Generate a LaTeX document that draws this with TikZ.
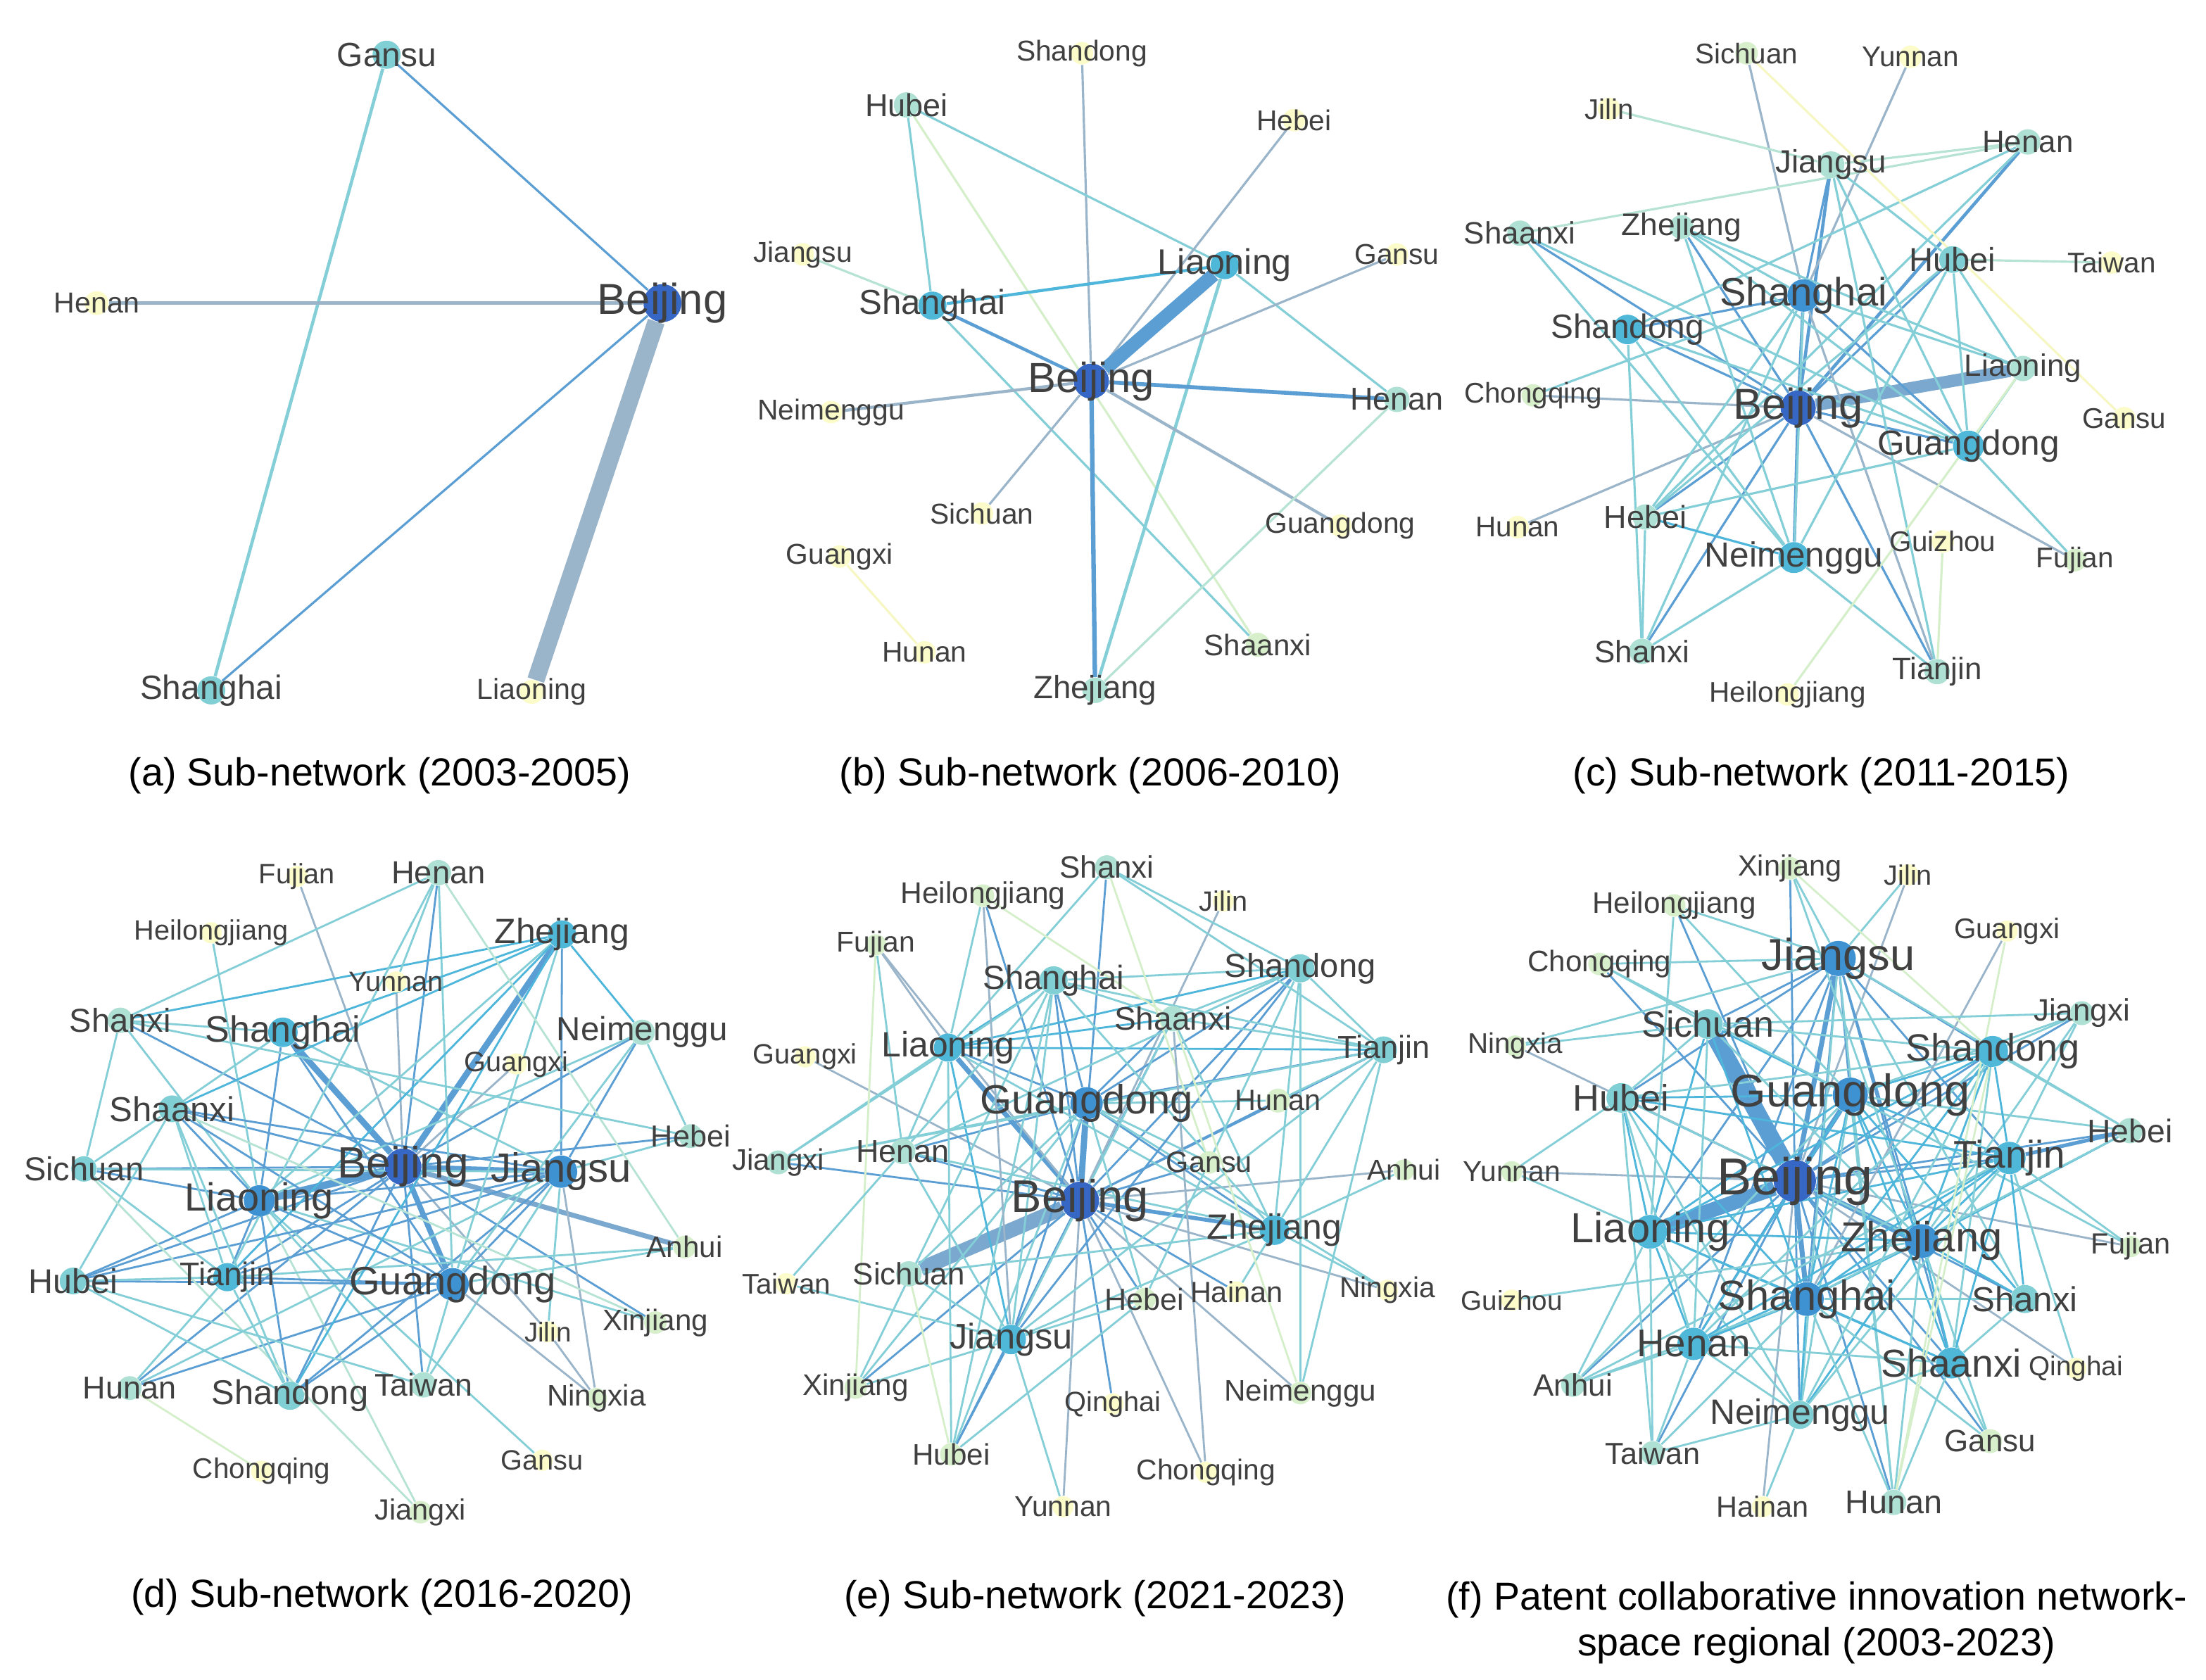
\documentclass[tikz,border=0pt]{standalone}
\usepackage{fontspec}
\setmainfont{Liberation Sans}
\usetikzlibrary{backgrounds}

\definecolor{nodeA}{HTML}{3767C4}
\definecolor{nodeB}{HTML}{3F92D2}
\definecolor{nodeC}{HTML}{4FB8D8}
\definecolor{nodeD}{HTML}{7FCFD4}
\definecolor{nodeE}{HTML}{AEE0D3}
\definecolor{nodeF}{HTML}{D7EFCB}
\definecolor{nodeG}{HTML}{FCFCCB}
\definecolor{labtext}{HTML}{404040}
\definecolor{lnBlue}{HTML}{5B9ED4}
\definecolor{lnSteel}{HTML}{7BA8CE}
\definecolor{lnGray}{HTML}{9AB5CA}
\definecolor{lnCyan}{HTML}{4DB6DA}
\definecolor{lnTeal}{HTML}{84CFD7}
\definecolor{lnMint}{HTML}{B6E3D4}
\definecolor{lnLight}{HTML}{D6EFCB}
\definecolor{lnYellow}{HTML}{F6F7C2}

\tikzset{city/.style={
		circle,
		inner sep=0pt,
		minimum size=#1,
	},
	city/.default=3.2mm,
	lab/.style 2 args={
		label={[text=labtext, inner sep=0pt, font=\fontsize{#1}{#1}\selectfont]center:#2}
	},
	link/.style={
		draw=#1,
		line width=0.9pt,
	},
	capt/.style={
		text=black,
		font=\fontsize{15.8}{18.6}\selectfont,
		align=center,
	}
}

\begin{document}
\begin{tikzpicture}
	\begin{pgfonlayer}{background}
		\fill[white] (0,0) rectangle (31.34,-23.87);
	\end{pgfonlayer}
	\useasboundingbox (0,0) rectangle (31.34,-23.87);

	% (a) 2003-2005
	\begin{scope}[name prefix=a-, x=0.006696cm, y=-0.007206cm]
		\node[city=4mm, fill=nodeD, lab={13.6}{Gansu}] (Gansu) at (820,108) {};
		\node[city=3.4mm, fill=nodeG, lab={11.7}{Henan}] (Henan) at (205,598) {};
		\node[city=5.4mm, fill=nodeA, lab={17.5}{Beijing}] (Beijing) at (1405,598) {};
		\node[city=4mm, fill=nodeD, lab={13.6}{Shanghai}] (Shanghai) at (448,1362) {};
		\node[city=3.4mm, fill=nodeG, lab={11.7}{Liaoning}] (Liaoning) at (1128,1365) {};
		\begin{pgfonlayer}{background}
			\draw[link=lnBlue] (Gansu) -- (Beijing);
			\draw[link=lnTeal, line width=1.3pt] (Gansu) -- (Shanghai);
			\draw[link=lnGray, line width=1.3pt] (Henan) -- (Beijing);
			\draw[link=lnBlue] (Shanghai) -- (Beijing);
			\draw[link=lnGray, line width=7pt] (Liaoning) -- (Beijing);
		\end{pgfonlayer}
		\node[capt] (cap) at (805,1530) {(a) Sub-network (2003-2005)};
	\end{scope}

	% (b) 2006-2010
	\begin{scope}[name prefix=b-, shift={(10.4cm,0cm)}, x=0.006696cm, y=-0.007206cm]
		\node[city, fill=nodeG, lab={11.6}{Shandong}] (Shandong) at (742,105) {};
		\node[city=3.6mm, fill=nodeE, lab={12.8}{Hubei}] (Hubei) at (370,207) {};
		\node[city, fill=nodeG, lab={11.6}{Hebei}] (Hebei) at (1192,237) {};
		\node[city, fill=nodeG, lab={11.6}{Jiangsu}] (Jiangsu) at (150,502) {};
		\node[city=4mm, fill=nodeC, lab={14.3}{Liaoning}] (Liaoning) at (1045,523) {};
		\node[city, fill=nodeG, lab={11.6}{Gansu}] (Gansu) at (1410,502) {};
		\node[city=4mm, fill=nodeC, lab={14}{Shanghai}] (Shanghai) at (425,603) {};
		\node[city=5mm, fill=nodeA, lab={17}{Beijing}] (Beijing) at (762,752) {};
		\node[city, fill=nodeG, lab={11.6}{Neimenggu}] (Neimenggu) at (210,813) {};
		\node[city=3.6mm, fill=nodeE, lab={12.8}{Henan}] (Henan) at (1410,788) {};
		\node[city, fill=nodeG, lab={11.6}{Sichuan}] (Sichuan) at (530,1013) {};
		\node[city, fill=nodeG, lab={11.6}{Guangdong}] (Guangdong) at (1290,1037) {};
		\node[city, fill=nodeG, lab={11.6}{Guangxi}] (Guangxi) at (228,1098) {};
		\node[city, fill=nodeG, lab={11.6}{Hunan}] (Hunan) at (408,1287) {};
		\node[city=3.4mm, fill=nodeF, lab={12}{Shaanxi}] (Shaanxi) at (1115,1272) {};
		\node[city=3.6mm, fill=nodeE, lab={13}{Zhejiang}] (Zhejiang) at (770,1362) {};
		\begin{pgfonlayer}{background}
			\draw[link=lnGray] (Shandong) -- (Beijing);
			\draw[link=lnTeal] (Hubei) -- (Shanghai);
			\draw[link=lnTeal] (Hubei) -- (Liaoning);
			\draw[link=lnLight] (Hubei) -- (Shaanxi);
			\draw[link=lnGray] (Hebei) -- (Beijing);
			\draw[link=lnMint] (Jiangsu) -- (Shanghai);
			\draw[link=lnCyan, line width=1.2pt] (Shanghai) -- (Liaoning);
			\draw[link=lnBlue, line width=1.3pt] (Shanghai) -- (Beijing);
			\draw[link=lnTeal] (Shanghai) -- (Shaanxi);
			\draw[link=lnBlue, line width=5.5pt] (Liaoning) -- (Beijing);
			\draw[link=lnTeal, line width=1.3pt] (Liaoning) -- (Zhejiang);
			\draw[link=lnTeal] (Liaoning) -- (Henan);
			\draw[link=lnGray] (Gansu) -- (Beijing);
			\draw[link=lnBlue, line width=1.6pt] (Beijing) -- (Henan);
			\draw[link=lnGray, line width=1.2pt] (Neimenggu) -- (Beijing);
			\draw[link=lnGray] (Sichuan) -- (Beijing);
			\draw[link=lnGray, line width=1.2pt] (Beijing) -- (Guangdong);
			\draw[link=lnBlue, line width=1.8pt] (Beijing) -- (Zhejiang);
			\draw[link=lnMint] (Henan) -- (Zhejiang);
			\draw[link=lnYellow] (Guangxi) -- (Hunan);
		\end{pgfonlayer}
		\node[capt] (cap) at (760,1530) {(b) Sub-network (2006-2010)};
	\end{scope}

	% (c) 2011-2015
	\begin{scope}[name prefix=c-, shift={(20.6cm,0cm)}, x=0.006849cm, y=-0.007206cm]
		\node[city, fill=nodeF, lab={11.5}{Sichuan}] (Sichuan) at (615,105) {};
		\node[city, fill=nodeG, lab={11.5}{Yunnan}] (Yunnan) at (955,112) {};
		\node[city, fill=nodeG, lab={11.5}{Jilin}] (Jilin) at (330,215) {};
		\node[city=3.8mm, fill=nodeE, lab={13}{Jiangsu}] (Jiangsu) at (790,325) {};
		\node[city=3.6mm, fill=nodeE, lab={12.5}{Henan}] (Henan) at (1198,280) {};
		\node[city=3.6mm, fill=nodeE, lab={12.5}{Shaanxi}] (Shaanxi) at (145,460) {};
		\node[city=3.4mm, fill=nodeE, lab={12.6}{Zhejiang}] (Zhejiang) at (480,448) {};
		\node[city=3.8mm, fill=nodeD, lab={13.4}{Hubei}] (Hubei) at (1042,512) {};
		\node[city, fill=nodeG, lab={11.5}{Taiwan}] (Taiwan) at (1372,518) {};
		\node[city=4.6mm, fill=nodeB, lab={16}{Shanghai}] (Shanghai) at (733,583) {};
		\node[city=4.2mm, fill=nodeC, lab={13.6}{Shandong}] (Shandong) at (368,650) {};
		\node[city=3.6mm, fill=nodeE, lab={12.5}{Liaoning}] (Liaoning) at (1188,727) {};
		\node[city, fill=nodeF, lab={11.5}{Chongqing}] (Chongqing) at (172,780) {};
		\node[city=5mm, fill=nodeA, lab={17.5}{Beijing}] (Beijing) at (722,805) {};
		\node[city, fill=nodeG, lab={11.5}{Gansu}] (Gansu) at (1398,825) {};
		\node[city=4.4mm, fill=nodeC, lab={14.1}{Guangdong}] (Guangdong) at (1075,880) {};
		\node[city=3.6mm, fill=nodeE, lab={12.8}{Hebei}] (Hebei) at (405,1020) {};
		\node[city, fill=nodeG, lab={11.5}{Hunan}] (Hunan) at (140,1040) {};
		\node[city, fill=nodeG, lab={11.5}{Guizhou}] (Guizhou) at (1022,1068) {};
		\node[city, fill=nodeF, lab={11.5}{Fujian}] (Fujian) at (1296,1105) {};
		\node[city=4.4mm, fill=nodeC, lab={14.1}{Neimenggu}] (Neimenggu) at (713,1100) {};
		\node[city=3.6mm, fill=nodeE, lab={12.5}{Shanxi}] (Shanxi) at (398,1285) {};
		\node[city=3.6mm, fill=nodeE, lab={12.5}{Tianjin}] (Tianjin) at (1010,1325) {};
		\node[city, fill=nodeG, lab={11.5}{Heilongjiang}] (Heilongjiang) at (700,1370) {};
		\begin{pgfonlayer}{background}
			\draw[link=lnSteel, line width=5pt] (Beijing) -- (Liaoning);
			\foreach \n in {Shanghai, Jiangsu, Henan, Neimenggu}
				\draw[link=lnBlue, line width=1.3pt] (Beijing) -- (\n);
			\foreach \n in {Zhejiang, Shaanxi, Shandong, Hubei, Guangdong, Shanxi, Tianjin, Hebei}
				\draw[link=lnBlue] (Beijing) -- (\n);
			\foreach \n in {Chongqing, Hunan, Fujian}
				\draw[link=lnGray] (Beijing) -- (\n);
			\foreach \n in {Sichuan, Yunnan, Tianjin}
				\draw[link=lnGray] (Shanghai) -- (\n);
			\foreach \n in {Shandong, Guangdong, Jiangsu}
				\draw[link=lnBlue] (Shanghai) -- (\n);
			\foreach \n in {Liaoning, Hebei, Neimenggu, Chongqing, Zhejiang, Shanxi}
				\draw[link=lnTeal] (Shanghai) -- (\n);
			\foreach \n in {Hubei, Guangdong, Tianjin}
				\draw[link=lnTeal] (Jiangsu) -- (\n);
			\foreach \n in {Guangdong, Neimenggu, Liaoning}
				\draw[link=lnTeal] (Zhejiang) -- (\n);
			\foreach \n in {Neimenggu, Guangdong}
				\draw[link=lnTeal] (Shaanxi) -- (\n);
			\foreach \n in {Guangdong, Shanxi, Neimenggu, Henan}
				\draw[link=lnTeal] (Shandong) -- (\n);
			\foreach \n in {Guangdong, Liaoning, Hebei, Neimenggu}
				\draw[link=lnTeal] (Hubei) -- (\n);
			\foreach \n in {Hebei, Fujian}
				\draw[link=lnTeal] (Guangdong) -- (\n);
			\draw[link=lnCyan] (Hebei) -- (Neimenggu);
			\draw[link=lnTeal] (Hebei) -- (Shanxi);
			\draw[link=lnTeal] (Henan) -- (Hebei);
			\draw[link=lnTeal] (Neimenggu) -- (Shanxi);
			\draw[link=lnTeal] (Neimenggu) -- (Tianjin);
			\draw[link=lnTeal] (Liaoning) -- (Guangdong);
			\draw[link=lnMint] (Jilin) -- (Jiangsu);
			\draw[link=lnMint] (Shaanxi) -- (Henan);
			\draw[link=lnMint] (Jiangsu) -- (Henan);
			\draw[link=lnMint] (Hubei) -- (Taiwan);
			\draw[link=lnLight] (Liaoning) -- (Heilongjiang);
			\draw[link=lnLight] (Guizhou) -- (Tianjin);
			\draw[link=lnYellow] (Sichuan) -- (Gansu);
		\end{pgfonlayer}
		\node[capt] (cap) at (770,1530) {(c) Sub-network (2011-2015)};
	\end{scope}

	% (d) 2016-2020
	\begin{scope}[name prefix=d-, shift={(0cm,-11.7cm)}, x=0.006696cm, y=-0.007762cm]
		\node[city=3mm, fill=nodeG, lab={11.3}{Fujian}] (Fujian) at (630,97) {};
		\node[city=3.6mm, fill=nodeE, lab={12.9}{Henan}] (Henan) at (930,90) {};
		\node[city=3mm, fill=nodeG, lab={11.3}{Heilongjiang}] (Heilongjiang) at (448,200) {};
		\node[city=4mm, fill=nodeC, lab={14.2}{Zhejiang}] (Zhejiang) at (1192,203) {};
		\node[city=3mm, fill=nodeG, lab={11.3}{Yunnan}] (Yunnan) at (840,290) {};
		\node[city=3.6mm, fill=nodeE, lab={13.4}{Shanxi}] (Shanxi) at (255,360) {};
		\node[city=4.2mm, fill=nodeC, lab={14.8}{Shanghai}] (Shanghai) at (600,382) {};
		\node[city=3.6mm, fill=nodeE, lab={13.5}{Neimenggu}] (Neimenggu) at (1362,382) {};
		\node[city=3mm, fill=nodeG, lab={11.3}{Guangxi}] (Guangxi) at (1095,440) {};
		\node[city=3.8mm, fill=nodeD, lab={14}{Shaanxi}] (Shaanxi) at (365,522) {};
		\node[city=3.4mm, fill=nodeE, lab={12.3}{Hebei}] (Hebei) at (1465,572) {};
		\node[city=3.6mm, fill=nodeD, lab={13.4}{Sichuan}] (Sichuan) at (178,632) {};
		\node[city=5.2mm, fill=nodeA, lab={17.7}{Beijing}] (Beijing) at (855,628) {};
		\node[city=4.6mm, fill=nodeB, lab={16.5}{Jiangsu}] (Jiangsu) at (1190,637) {};
		\node[city=4.4mm, fill=nodeB, lab={15.9}{Liaoning}] (Liaoning) at (550,690) {};
		\node[city=3.2mm, fill=nodeF, lab={12}{Anhui}] (Anhui) at (1452,775) {};
		\node[city=3.8mm, fill=nodeD, lab={13.8}{Hubei}] (Hubei) at (155,837) {};
		\node[city=4mm, fill=nodeC, lab={13.2}{Tianjin}] (Tianjin) at (482,830) {};
		\node[city=4.6mm, fill=nodeB, lab={16}{Guangdong}] (Guangdong) at (960,843) {};
		\node[city=3mm, fill=nodeG, lab={11}{Jilin}] (Jilin) at (1162,930) {};
		\node[city=3.2mm, fill=nodeF, lab={12}{Xinjiang}] (Xinjiang) at (1390,913) {};
		\node[city=3.4mm, fill=nodeE, lab={12.8}{Hunan}] (Hunan) at (275,1033) {};
		\node[city=4mm, fill=nodeD, lab={13.9}{Shandong}] (Shandong) at (615,1047) {};
		\node[city=3.6mm, fill=nodeE, lab={12.7}{Taiwan}] (Taiwan) at (898,1027) {};
		\node[city=3mm, fill=nodeF, lab={12}{Ningxia}] (Ningxia) at (1265,1052) {};
		\node[city=3mm, fill=nodeG, lab={11.5}{Chongqing}] (Chongqing) at (555,1185) {};
		\node[city=3mm, fill=nodeG, lab={11.3}{Gansu}] (Gansu) at (1150,1165) {};
		\node[city=3.2mm, fill=nodeF, lab={11.8}{Jiangxi}] (Jiangxi) at (892,1260) {};
		\begin{pgfonlayer}{background}
			\draw[link=lnBlue, line width=3pt] (Beijing) -- (Liaoning);
			\draw[link=lnBlue, line width=2.5pt] (Beijing) -- (Shanghai);
			\draw[link=lnBlue, line width=2.5pt] (Beijing) -- (Zhejiang);
			\draw[link=lnBlue, line width=2.2pt] (Beijing) -- (Guangdong);
			\draw[link=lnBlue, line width=2pt] (Beijing) -- (Jiangsu);
			\draw[link=lnSteel, line width=2pt] (Beijing) -- (Anhui);
			\foreach \n in {Henan, Shanxi, Shaanxi, Sichuan, Hubei, Tianjin, Neimenggu, Hebei, Shandong, Taiwan, Hunan, Xinjiang}
				\draw[link=lnBlue, line width=0.8pt] (Beijing) -- (\n);
			\foreach \n in {Fujian, Guangxi, Jilin, Yunnan}
				\draw[link=lnGray, line width=0.8pt] (Beijing) -- (\n);
			\foreach \n in {Shanghai, Shaanxi, Hubei, Tianjin, Guangdong, Jiangsu, Shandong, Sichuan}
				\draw[link=lnBlue, line width=0.8pt] (Liaoning) -- (\n);
			\foreach \n in {Taiwan, Heilongjiang, Neimenggu, Zhejiang, Xinjiang, Shanxi, Gansu}
				\draw[link=lnTeal, line width=0.8pt] (Liaoning) -- (\n);
			\draw[link=lnMint, line width=0.8pt] (Liaoning) -- (Jiangxi);
			\foreach \n in {Zhejiang, Shaanxi, Hubei, Tianjin, Guangdong, Shandong, Neimenggu}
				\draw[link=lnBlue, line width=0.8pt] (Jiangsu) -- (\n);
			\foreach \n in {Shanghai, Taiwan, Jilin, Hunan, Hebei, Sichuan}
				\draw[link=lnTeal, line width=0.8pt] (Jiangsu) -- (\n);
			\draw[link=lnGray, line width=0.8pt] (Jiangsu) -- (Ningxia);
			\foreach \n in {Shanghai, Shaanxi, Hubei, Tianjin, Shandong, Hunan}
				\draw[link=lnBlue, line width=0.8pt] (Guangdong) -- (\n);
			\foreach \n in {Taiwan, Henan, Zhejiang, Neimenggu, Anhui}
				\draw[link=lnTeal, line width=0.8pt] (Guangdong) -- (\n);
			\draw[link=lnGray, line width=0.8pt] (Guangdong) -- (Ningxia);
			\foreach \n in {Shanxi, Shaanxi, Shanghai, Neimenggu, Tianjin, Shandong}
				\draw[link=lnCyan, line width=0.8pt] (Zhejiang) -- (\n);
			\foreach \n in {Shanxi, Yunnan, Tianjin}
				\draw[link=lnTeal, line width=0.8pt] (Henan) -- (\n);
			\draw[link=lnMint, line width=0.8pt] (Henan) -- (Anhui);
			\foreach \n in {Sichuan, Shanghai, Hebei}
				\draw[link=lnTeal, line width=0.8pt] (Shanxi) -- (\n);
			\foreach \n in {Sichuan, Hubei, Tianjin, Shandong, Shanghai}
				\draw[link=lnTeal, line width=0.8pt] (Shaanxi) -- (\n);
			\draw[link=lnMint, line width=0.8pt] (Shaanxi) -- (Xinjiang);
			\draw[link=lnTeal, line width=0.8pt] (Sichuan) -- (Tianjin);
			\draw[link=lnMint, line width=0.8pt] (Sichuan) -- (Jiangxi);
			\foreach \n in {Tianjin, Shandong, Taiwan}
				\draw[link=lnTeal, line width=0.8pt] (Hubei) -- (\n);
			\draw[link=lnLight, line width=0.8pt] (Hunan) -- (Chongqing);
			\draw[link=lnTeal, line width=0.8pt] (Hunan) -- (Tianjin);
			\foreach \n in {Anhui, Shandong}
				\draw[link=lnTeal, line width=0.8pt] (Tianjin) -- (\n);
			\draw[link=lnTeal, line width=0.8pt] (Neimenggu) -- (Hebei);
			\draw[link=lnGray, line width=0.8pt] (Jilin) -- (Ningxia);
		\end{pgfonlayer}
		\node[capt] (cap) at (810,1415) {(d) Sub-network (2016-2020)};
	\end{scope}

	% (e) 2021-2023
	\begin{scope}[name prefix=e-, shift={(10.4cm,-11.7cm)}, x=0.006696cm, y=-0.007762cm]
		\node[city=3.4mm, fill=nodeE, lab={12.5}{Shanxi}] (Shanxi) at (795,80) {};
		\node[city=3.2mm, fill=nodeF, lab={12.1}{Heilongjiang}] (Heilongjiang) at (532,132) {};
		\node[city=3mm, fill=nodeG, lab={11.3}{Jilin}] (Jilin) at (1042,142) {};
		\node[city=3mm, fill=nodeF, lab={11.6}{Fujian}] (Fujian) at (305,222) {};
		\node[city=4mm, fill=nodeD, lab={13.4}{Shandong}] (Shandong) at (1205,265) {};
		\node[city=4mm, fill=nodeD, lab={13.5}{Shanghai}] (Shanghai) at (682,287) {};
		\node[city=3.6mm, fill=nodeE, lab={13.1}{Shaanxi}] (Shaanxi) at (935,357) {};
		\node[city=4mm, fill=nodeC, lab={14.2}{Liaoning}] (Liaoning) at (458,410) {};
		\node[city=3.8mm, fill=nodeD, lab={12.8}{Tianjin}] (Tianjin) at (1382,414) {};
		\node[city=3mm, fill=nodeG, lab={11.3}{Guangxi}] (Guangxi) at (155,427) {};
		\node[city=4.6mm, fill=nodeB, lab={16.5}{Guangdong}] (Guangdong) at (752,512) {};
		\node[city=3.4mm, fill=nodeF, lab={11.8}{Hunan}] (Hunan) at (1158,507) {};
		\node[city=3.4mm, fill=nodeE, lab={12}{Jiangxi}] (Jiangxi) at (98,620) {};
		\node[city=3.6mm, fill=nodeE, lab={12.8}{Henan}] (Henan) at (362,600) {};
		\node[city=3.2mm, fill=nodeF, lab={11.8}{Gansu}] (Gansu) at (1012,620) {};
		\node[city=3mm, fill=nodeF, lab={11.6}{Anhui}] (Anhui) at (1425,634) {};
		\node[city=5.4mm, fill=nodeA, lab={18.5}{Beijing}] (Beijing) at (738,690) {};
		\node[city=4.2mm, fill=nodeC, lab={14.2}{Zhejiang}] (Zhejiang) at (1150,744) {};
		\node[city=3.6mm, fill=nodeE, lab={12.5}{Sichuan}] (Sichuan) at (375,824) {};
		\node[city=3mm, fill=nodeG, lab={11.5}{Taiwan}] (Taiwan) at (115,842) {};
		\node[city=3.2mm, fill=nodeF, lab={12.3}{Hebei}] (Hebei) at (875,870) {};
		\node[city=3mm, fill=nodeG, lab={11.8}{Hainan}] (Hainan) at (1070,857) {};
		\node[city=3mm, fill=nodeG, lab={11.6}{Ningxia}] (Ningxia) at (1390,854) {};
		\node[city=4.2mm, fill=nodeC, lab={14.4}{Jiangsu}] (Jiangsu) at (592,944) {};
		\node[city=3.2mm, fill=nodeF, lab={12}{Xinjiang}] (Xinjiang) at (262,1032) {};
		\node[city=3mm, fill=nodeG, lab={11.3}{Qinghai}] (Qinghai) at (808,1062) {};
		\node[city=3.2mm, fill=nodeF, lab={12}{Neimenggu}] (Neimenggu) at (1205,1042) {};
		\node[city=3.2mm, fill=nodeF, lab={12}{Hubei}] (Hubei) at (465,1154) {};
		\node[city=3mm, fill=nodeG, lab={11.6}{Chongqing}] (Chongqing) at (1005,1187) {};
		\node[city=3mm, fill=nodeG, lab={11.6}{Yunnan}] (Yunnan) at (702,1250) {};
		\begin{pgfonlayer}{background}
			\draw[link=lnSteel, line width=6pt] (Beijing) -- (Sichuan);
			\draw[link=lnBlue, line width=2.5pt] (Beijing) -- (Guangdong);
			\draw[link=lnBlue, line width=2pt] (Beijing) -- (Liaoning);
			\draw[link=lnBlue, line width=1.6pt] (Beijing) -- (Zhejiang);
			\foreach \n in {Shanghai, Shandong, Shaanxi, Tianjin, Jiangsu, Henan, Jiangxi, Hebei, Hainan, Shanxi, Hubei, Xinjiang, Qinghai, Gansu, Hunan, Heilongjiang}
				\draw[link=lnBlue, line width=0.8pt] (Beijing) -- (\n);
			\foreach \n in {Neimenggu, Chongqing, Yunnan, Fujian, Anhui, Guangxi, Jilin, Ningxia}
				\draw[link=lnGray, line width=0.8pt] (Beijing) -- (\n);
			\foreach \n in {Liaoning, Shanghai, Shandong, Shaanxi, Tianjin, Zhejiang, Jiangsu, Henan}
				\draw[link=lnBlue, line width=0.8pt] (Guangdong) -- (\n);
			\foreach \n in {Jiangxi, Sichuan, Hebei, Hunan, Xinjiang, Hubei, Gansu, Ningxia}
				\draw[link=lnTeal, line width=0.8pt] (Guangdong) -- (\n);
			\foreach \n in {Shanghai, Shandong, Tianjin, Shaanxi, Jiangsu}
				\draw[link=lnCyan, line width=0.8pt] (Liaoning) -- (\n);
			\foreach \n in {Henan, Jiangxi, Heilongjiang, Shanxi, Zhejiang, Hubei}
				\draw[link=lnTeal, line width=0.8pt] (Liaoning) -- (\n);
			\draw[link=lnGray, line width=0.8pt] (Liaoning) -- (Fujian);
			\foreach \n in {Shanghai, Shanxi, Shaanxi, Tianjin, Zhejiang, Neimenggu, Hebei, Henan}
				\draw[link=lnTeal, line width=0.8pt] (Shandong) -- (\n);
			\draw[link=lnBlue, line width=0.8pt] (Shandong) -- (Jiangsu);
			\foreach \n in {Shanxi, Shaanxi, Zhejiang, Jiangsu, Hunan, Shanghai, Jiangxi, Neimenggu}
				\draw[link=lnTeal, line width=0.8pt] (Tianjin) -- (\n);
			\foreach \n in {Shanghai, Shaanxi, Jiangsu, Sichuan, Hainan, Henan, Anhui, Ningxia}
				\draw[link=lnTeal, line width=0.8pt] (Zhejiang) -- (\n);
			\foreach \n in {Shanghai, Shaanxi, Taiwan, Sichuan, Xinjiang, Yunnan, Hebei, Henan}
				\draw[link=lnTeal, line width=0.8pt] (Jiangsu) -- (\n);
			\draw[link=lnBlue, line width=0.8pt] (Jiangsu) -- (Hubei);
			\foreach \n in {Shaanxi, Henan, Jiangxi, Hubei, Xinjiang}
				\draw[link=lnTeal, line width=0.8pt] (Shanghai) -- (\n);
			\draw[link=lnLight, line width=0.8pt] (Shanxi) -- (Gansu);
			\draw[link=lnLight, line width=0.8pt] (Sichuan) -- (Hubei);
			\draw[link=lnLight, line width=0.8pt] (Fujian) -- (Xinjiang);
			\draw[link=lnTeal, line width=0.8pt] (Fujian) -- (Henan);
			\draw[link=lnTeal, line width=0.8pt] (Taiwan) -- (Henan);
			\draw[link=lnTeal, line width=0.8pt] (Hebei) -- (Hubei);
			\draw[link=lnLight, line width=0.8pt] (Neimenggu) -- (Shaanxi);
			\draw[link=lnGray, line width=0.8pt] (Chongqing) -- (Shaanxi);
			\draw[link=lnLight, line width=0.8pt] (Heilongjiang) -- (Shaanxi);
			\draw[link=lnGray, line width=0.8pt] (Heilongjiang) -- (Jiangsu);
		\end{pgfonlayer}
		\node[capt] (cap) at (770,1418) {(e) Sub-network (2021-2023)};
	\end{scope}

	% (f) 2003-2023
	\begin{scope}[name prefix=f-, shift={(20.6cm,-11.7cm)}, x=0.006849cm, y=-0.007762cm]
		\node[city=3.2mm, fill=nodeF, lab={11.8}{Xinjiang}] (Xinjiang) at (705,82) {};
		\node[city=3mm, fill=nodeG, lab={11.3}{Jilin}] (Jilin) at (950,94) {};
		\node[city=3.2mm, fill=nodeF, lab={12}{Heilongjiang}] (Heilongjiang) at (465,150) {};
		\node[city=3mm, fill=nodeG, lab={11.5}{Guangxi}] (Guangxi) at (1155,197) {};
		\node[city=5mm, fill=nodeB, lab={18}{Jiangsu}] (Jiangsu) at (805,247) {};
		\node[city=3.2mm, fill=nodeF, lab={12}{Chongqing}] (Chongqing) at (310,257) {};
		\node[city=3.4mm, fill=nodeE, lab={12.5}{Jiangxi}] (Jiangxi) at (1310,347) {};
		\node[city=4.2mm, fill=nodeD, lab={14.8}{Sichuan}] (Sichuan) at (535,367) {};
		\node[city=3mm, fill=nodeF, lab={11.5}{Ningxia}] (Ningxia) at (135,407) {};
		\node[city=4.4mm, fill=nodeC, lab={15.4}{Shandong}] (Shandong) at (1125,417) {};
		\node[city=5mm, fill=nodeB, lab={18.5}{Guangdong}] (Guangdong) at (830,497) {};
		\node[city=4.2mm, fill=nodeD, lab={14.9}{Hubei}] (Hubei) at (355,502) {};
		\node[city=3.6mm, fill=nodeE, lab={13.2}{Hebei}] (Hebei) at (1410,562) {};
		\node[city=4.6mm, fill=nodeC, lab={15.6}{Tianjin}] (Tianjin) at (1160,612) {};
		\node[city=3mm, fill=nodeF, lab={11.6}{Yunnan}] (Yunnan) at (128,637) {};
		\node[city=6mm, fill=nodeA, lab={21}{Beijing}] (Beijing) at (715,654) {};
		\node[city=4.8mm, fill=nodeC, lab={17}{Liaoning}] (Liaoning) at (415,747) {};
		\node[city=3mm, fill=nodeF, lab={11.8}{Fujian}] (Fujian) at (1412,774) {};
		\node[city=4.8mm, fill=nodeB, lab={17}{Zhejiang}] (Zhejiang) at (978,764) {};
		\node[city=3mm, fill=nodeG, lab={11}{Guizhou}] (Guizhou) at (128,872) {};
		\node[city=4.8mm, fill=nodeB, lab={17}{Shanghai}] (Shanghai) at (740,870) {};
		\node[city=4mm, fill=nodeD, lab={14}{Shanxi}] (Shanxi) at (1192,870) {};
		\node[city=4.6mm, fill=nodeC, lab={15.6}{Henan}] (Henan) at (505,952) {};
		\node[city=4.4mm, fill=nodeC, lab={15.7}{Shaanxi}] (Shaanxi) at (1040,987) {};
		\node[city=3mm, fill=nodeG, lab={11}{Qinghai}] (Qinghai) at (1298,997) {};
		\node[city=3.4mm, fill=nodeE, lab={12.5}{Anhui}] (Anhui) at (255,1027) {};
		\node[city=4mm, fill=nodeD, lab={14.2}{Neimenggu}] (Neimenggu) at (725,1082) {};
		\node[city=3.4mm, fill=nodeF, lab={12.5}{Gansu}] (Gansu) at (1120,1130) {};
		\node[city=3.4mm, fill=nodeE, lab={12.3}{Taiwan}] (Taiwan) at (420,1152) {};
		\node[city=3mm, fill=nodeG, lab={11.8}{Hainan}] (Hainan) at (648,1250) {};
		\node[city=3.6mm, fill=nodeE, lab={13.3}{Hunan}] (Hunan) at (920,1242) {};
		\begin{pgfonlayer}{background}
			\draw[link=lnBlue, line width=7pt] (Beijing) -- (Sichuan);
			\draw[link=lnBlue, line width=6pt] (Beijing) -- (Liaoning);
			\foreach \n in {Jiangsu, Guangdong, Zhejiang, Shanghai}
				\draw[link=lnBlue, line width=2pt] (Beijing) -- (\n);
			\foreach \n in {Tianjin, Shandong, Hubei, Henan, Shaanxi, Shanxi, Neimenggu, Hebei, Heilongjiang, Xinjiang, Anhui, Taiwan, Hunan, Gansu, Jiangxi, Chongqing}
				\draw[link=lnBlue, line width=0.8pt] (Beijing) -- (\n);
			\foreach \n in {Yunnan, Fujian, Jilin, Hainan, Ningxia, Qinghai}
				\draw[link=lnGray, line width=0.8pt] (Beijing) -- (\n);
			\foreach \n in {Guangdong, Sichuan, Hubei, Shandong, Liaoning, Zhejiang, Shanghai, Tianjin, Henan, Shaanxi}
				\draw[link=lnBlue, line width=0.8pt] (Jiangsu) -- (\n);
			\foreach \n in {Shanxi, Neimenggu, Chongqing, Xinjiang, Jilin, Ningxia, Hebei, Hunan, Heilongjiang}
				\draw[link=lnTeal, line width=0.8pt] (Jiangsu) -- (\n);
			\foreach \n in {Sichuan, Hubei, Shandong, Liaoning, Zhejiang, Shanghai, Tianjin, Henan, Shaanxi, Shanxi}
				\draw[link=lnCyan, line width=0.8pt] (Guangdong) -- (\n);
			\foreach \n in {Hebei, Jiangxi, Neimenggu, Hunan, Chongqing, Heilongjiang, Fujian, Anhui}
				\draw[link=lnTeal, line width=0.8pt] (Guangdong) -- (\n);
			\foreach \n in {Sichuan, Hubei, Zhejiang, Shanghai, Tianjin, Henan, Shaanxi, Shandong}
				\draw[link=lnCyan, line width=0.8pt] (Liaoning) -- (\n);
			\foreach \n in {Taiwan, Anhui, Yunnan, Neimenggu, Heilongjiang}
				\draw[link=lnTeal, line width=0.8pt] (Liaoning) -- (\n);
			\foreach \n in {Shanghai, Tianjin, Shandong, Hebei, Shanxi, Shaanxi, Henan, Neimenggu}
				\draw[link=lnCyan, line width=0.8pt] (Zhejiang) -- (\n);
			\foreach \n in {Hunan, Gansu, Sichuan, Hubei, Jiangxi, Guizhou, Xinjiang}
				\draw[link=lnTeal, line width=0.8pt] (Zhejiang) -- (\n);
			\foreach \n in {Tianjin, Shandong, Henan, Shaanxi, Neimenggu, Hubei, Sichuan}
				\draw[link=lnCyan, line width=0.8pt] (Shanghai) -- (\n);
			\foreach \n in {Hunan, Hebei, Shanxi, Anhui, Taiwan, Gansu}
				\draw[link=lnTeal, line width=0.8pt] (Shanghai) -- (\n);
			\draw[link=lnGray, line width=0.8pt] (Shanghai) -- (Guangxi);
			\draw[link=lnBlue, line width=1.5pt] (Tianjin) -- (Hebei);
			\foreach \n in {Shandong, Shanxi, Shaanxi, Henan, Hubei}
				\draw[link=lnCyan, line width=0.8pt] (Tianjin) -- (\n);
			\foreach \n in {Neimenggu, Fujian, Jiangxi, Anhui, Qinghai}
				\draw[link=lnTeal, line width=0.8pt] (Tianjin) -- (\n);
			\foreach \n in {Jiangxi, Hebei, Sichuan, Hubei, Shaanxi, Neimenggu, Henan}
				\draw[link=lnTeal, line width=0.8pt] (Shandong) -- (\n);
			\draw[link=lnLight, line width=0.8pt] (Shandong) -- (Xinjiang);
			\draw[link=lnLight, line width=0.8pt] (Shandong) -- (Hunan);
			\draw[link=lnLight, line width=0.8pt] (Guangxi) -- (Hunan);
			\foreach \n in {Hubei, Chongqing, Henan, Jiangxi, Ningxia}
				\draw[link=lnTeal, line width=0.8pt] (Sichuan) -- (\n);
			\foreach \n in {Yunnan, Henan, Taiwan, Neimenggu}
				\draw[link=lnTeal, line width=0.8pt] (Hubei) -- (\n);
			\foreach \n in {Anhui, Taiwan, Neimenggu, Shaanxi}
				\draw[link=lnTeal, line width=0.8pt] (Henan) -- (\n);
			\foreach \n in {Gansu, Neimenggu, Hunan, Shanxi}
				\draw[link=lnTeal, line width=0.8pt] (Shaanxi) -- (\n);
			\foreach \n in {Hainan, Taiwan}
				\draw[link=lnTeal, line width=0.8pt] (Neimenggu) -- (\n);
		\end{pgfonlayer}
		\node[capt] (cap) at (760,1462) {(f) Patent collaborative innovation network-\\space regional (2003-2023)};
	\end{scope}
\end{tikzpicture}
\end{document}
